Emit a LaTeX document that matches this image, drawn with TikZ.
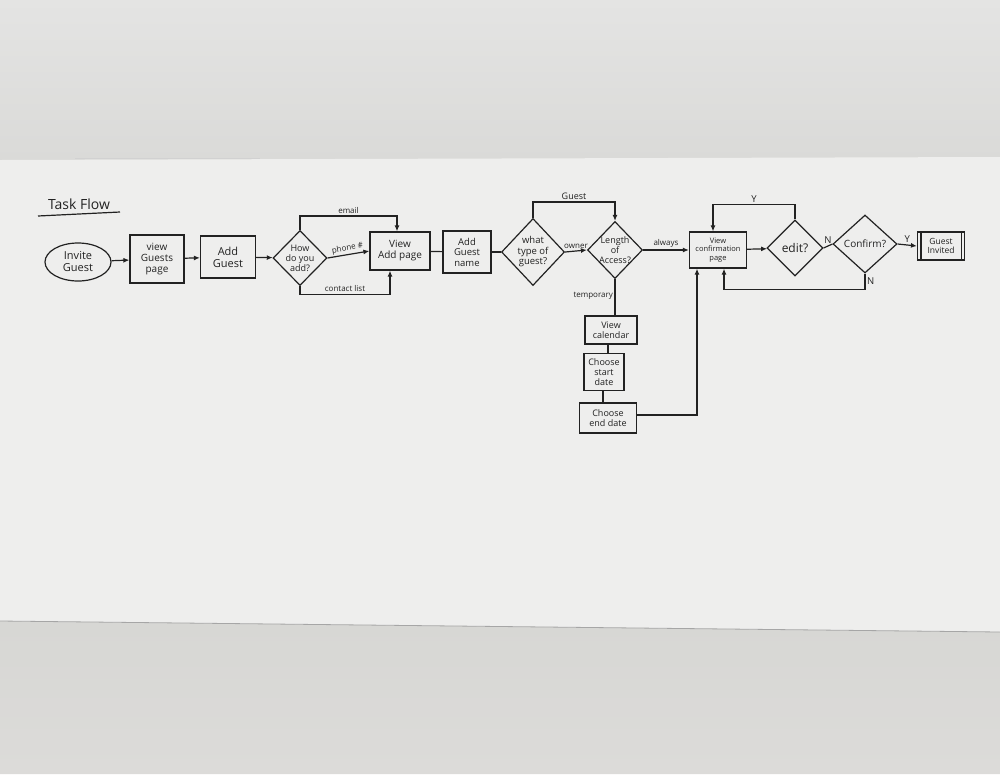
\documentclass[tikz,border=0pt]{standalone}
\usepackage{fontspec}
\setmainfont{Open Sans}
\usetikzlibrary{shapes.geometric,arrows.meta,calc}
\definecolor{ink}{HTML}{222222}
\definecolor{wallA}{HTML}{E4E4E3}
\definecolor{wallB}{HTML}{DADAD8}
\definecolor{board}{HTML}{EEEEED}
\definecolor{floorA}{HTML}{D7D7D4}
\definecolor{floorB}{HTML}{DCDBD9}
\tikzset{
  every node/.style={text=ink},
  ln/.style={draw=ink, line width=1.2pt},
  arr/.style={ln, -{Latex[length=6pt,width=5pt]}},
  box/.style={draw=ink, line width=1.2pt, rectangle, align=center, inner sep=1pt,
    font=\fontsize{9}{10}\selectfont},
  dia/.style={draw=ink, line width=1.2pt, diamond, inner sep=0pt},
  dtext/.style={align=center, font=\fontsize{9}{10}\selectfont},
  lbl/.style={font=\fontsize{8}{9}\selectfont, inner sep=1.5pt},
}
\begin{document}
\begin{tikzpicture}[x=1pt,y=-1pt]
\useasboundingbox (0,0) rectangle (1000,774);
% background: wall, whiteboard, lower wall
\shade[top color=wallA, bottom color=wallB] (0,0) rectangle (1000,160);
\fill[board] (0,160) -- (1000,157) -- (1000,632) -- (0,621) -- cycle;
\shade[top color=floorA, bottom color=floorB] (0,621) -- (1000,632) -- (1000,774) -- (0,774) -- cycle;
\draw[black!35, line width=0.8pt] (0,621) -- (1000,632);
\draw[black!18, line width=0.8pt] (75,158) -- (260,158);

% title
\node[font=\fontsize{14}{15}\selectfont] (title) at (79,204) {Task Flow};
\draw[ln] (38,216) -- (120,212);

% nodes
\node[draw=ink, line width=1.2pt, ellipse, minimum width=66pt, minimum height=38pt,
      align=center, inner sep=0pt, font=\fontsize{11}{12}\selectfont] (invite) at (78,262) {Invite\\Guest};
\node[box, minimum width=54pt, minimum height=48pt, font=\fontsize{10}{11}\selectfont] (vgp) at (157,259) {view\\Guests\\page};
\node[box, minimum width=55pt, minimum height=42pt, font=\fontsize{11}{12}\selectfont] (addg) at (228,257) {Add\\Guest};
\node[dia, minimum width=54pt, minimum height=55pt,
      label={[dtext]center:How\\do you\\add?}] (how) at (300,258) {};
\node[box, minimum width=60pt, minimum height=38pt, font=\fontsize{10}{11}\selectfont] (vap) at (400,251) {View\\Add page};
\node[box, minimum width=48pt, minimum height=42pt, font=\fontsize{9.5}{10.5}\selectfont] (agn) at (467,252) {Add\\Guest\\name};
\node[dia, minimum width=63pt, minimum height=67pt,
      label={[dtext, font=\fontsize{9.5}{10.5}\selectfont]center:what\\type of\\guest?}] (type) at (533,252) {};
\node[dia, minimum width=55pt, minimum height=57pt,
      label={[dtext]center:Length\\of\\Access?}] (len) at (615,250) {};
\node[box, minimum width=52pt, minimum height=28pt] (vcal) at (611,330) {View\\calendar};
\node[box, minimum width=40pt, minimum height=37pt] (csd) at (604,372) {Choose\\start\\date};
\node[box, minimum width=57pt, minimum height=30pt] (ced) at (608,418) {Choose\\end date};
\node[box, minimum width=57pt, minimum height=36pt, font=\fontsize{7.5}{8.5}\selectfont] (vcp) at (718,250) {View\\confirmation\\page};
\node[dia, minimum width=56pt, minimum height=56pt,
      label={[dtext, font=\fontsize{12}{13}\selectfont]center:edit?}] (edit) at (795,248) {};
\node[dia, minimum width=64pt, minimum height=58pt,
      label={[dtext, font=\fontsize{10}{11}\selectfont]center:Confirm?}] (conf) at (865,244) {};
\node[box, minimum width=47pt, minimum height=28pt, font=\fontsize{8.5}{9.5}\selectfont] (gi) at (941,246) {Guest\\Invited};
\draw[ln] ([xshift=4pt]gi.north west) -- ([xshift=4pt]gi.south west);
\draw[ln] ([xshift=-4pt]gi.north east) -- ([xshift=-4pt]gi.south east);

% connectors
\draw[arr] (invite) -- (vgp);
\draw[arr] (vgp) -- (addg);
\draw[arr] (addg) -- (how);
\draw[arr] (how.north) -- ++(0,-14) -| node[lbl, above, pos=0.25] {email} ([xshift=-3pt]vap.north);
\draw[arr] (how.east) -- node[lbl, above, sloped] {phone \#} (vap.west);
\draw[arr] (how.south) -- ++(0,8) -| node[lbl, above, pos=0.25] {contact list} ([xshift=-10pt]vap.south);
\draw[ln] (vap) -- (agn);
\draw[ln] (agn) -- (type);
\draw[arr] (type.east) -- node[lbl, above] {owner} (len.west);
\draw[arr] (type.north) -- ++(0,-16) -| node[lbl, above, pos=0.25, font=\fontsize{9}{10}\selectfont] {Guest} (len.north);
\draw[arr] (len.east) -- node[lbl, above] {always} (vcp.west);
\draw[ln] (len.south) -- node[lbl, left, pos=0.45] {temporary} (len.south |- vcal.north);
\draw[ln] ([xshift=-3pt]vcal.south) -- ([xshift=-3pt]vcal.south |- csd.north);
\draw[ln] ([xshift=-1pt]csd.south) -- ([xshift=-1pt]csd.south |- ced.north);
\coordinate (cin) at ([xshift=-21pt]vcp.south);
\draw[arr] ([yshift=3pt]ced.east) -| (cin);
\draw[arr] (vcp) -- (edit);
\draw[arr] (edit.north) -- ++(0,-15) -| node[lbl, above, pos=0.25, font=\fontsize{9.5}{10}\selectfont] {Y} ([xshift=-5pt]vcp.north);
\draw[ln] (edit.east) -- node[lbl, above, font=\fontsize{9.5}{10}\selectfont] {N} (conf.west);
\draw[arr] (conf.east) -- node[lbl, above, font=\fontsize{9.5}{10}\selectfont] {Y} (gi.west);
\draw[arr] (conf.south) -- node[lbl, right, pos=0.45, font=\fontsize{9.5}{10}\selectfont] {N} ++(0,16) -| ([xshift=6pt]vcp.south);
\end{tikzpicture}
\end{document}
